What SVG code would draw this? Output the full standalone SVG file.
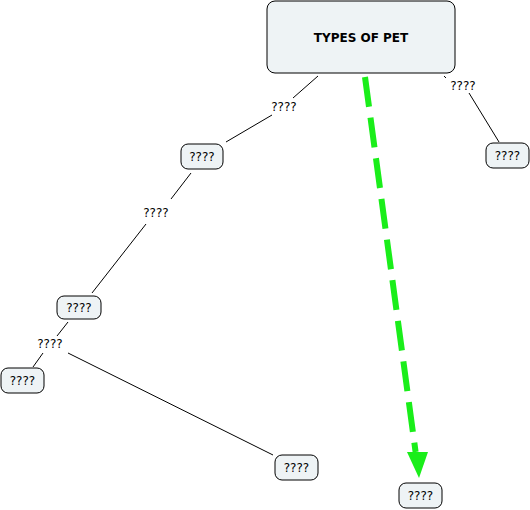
<svg xmlns="http://www.w3.org/2000/svg" width="530" height="510" viewBox="0 0 530 510">
<style>
.node rect{fill:#eef3f5;stroke:#000;stroke-width:1}
text{font-family:"DejaVu Sans",Verdana,sans-serif;font-size:12px;fill:#000;text-anchor:middle}
.conn line{stroke:#000;stroke-width:1}
</style>
<rect width="530" height="510" fill="#fff"/>
<g id="connectors" class="conn">
<line x1="318" y1="76" x2="293" y2="98"/>
<line x1="272" y1="115" x2="226" y2="142"/>
<line x1="444" y1="76" x2="446" y2="78"/>
<line x1="469" y1="93" x2="499" y2="142"/>
<line x1="191" y1="173" x2="171" y2="199"/>
<line x1="146" y1="224" x2="92" y2="293"/>
<line x1="68" y1="322" x2="57" y2="336"/>
<line x1="43" y1="353" x2="33" y2="367"/>
<line x1="68" y1="353" x2="273" y2="455"/>
<line x1="365" y1="77" x2="415.6" y2="452" style="stroke:#1aee1a;stroke-width:6" stroke-dasharray="30 11"/>
<path d="M407,452 L428,452 L419,478 Z" fill="#1aee1a"/>
<text x="284" y="111">????</text>
<text x="463" y="90">????</text>
<text x="156" y="217">????</text>
<text x="50" y="348">????</text>
</g>
<g id="n-main" class="node"><rect x="267" y="1" width="188" height="72" rx="8"/><text x="361" y="42" style="font-weight:bold">TYPES OF PET</text></g>
<g id="n-right" class="node"><rect x="486" y="143" width="43" height="25" rx="7"/><text x="507.5" y="160">????</text></g>
<g id="n-2" class="node"><rect x="181" y="144" width="42" height="25" rx="7"/><text x="202" y="161">????</text></g>
<g id="n-3" class="node"><rect x="57" y="296" width="44" height="23" rx="7"/><text x="79" y="312">????</text></g>
<g id="n-4" class="node"><rect x="1" y="368" width="43" height="25" rx="7"/><text x="22.5" y="385">????</text></g>
<g id="n-5" class="node"><rect x="275" y="455" width="43" height="25" rx="7"/><text x="296.5" y="472">????</text></g>
<g id="n-6" class="node"><rect x="399" y="483" width="43" height="25" rx="7"/><text x="420.5" y="500">????</text></g>
</svg>
